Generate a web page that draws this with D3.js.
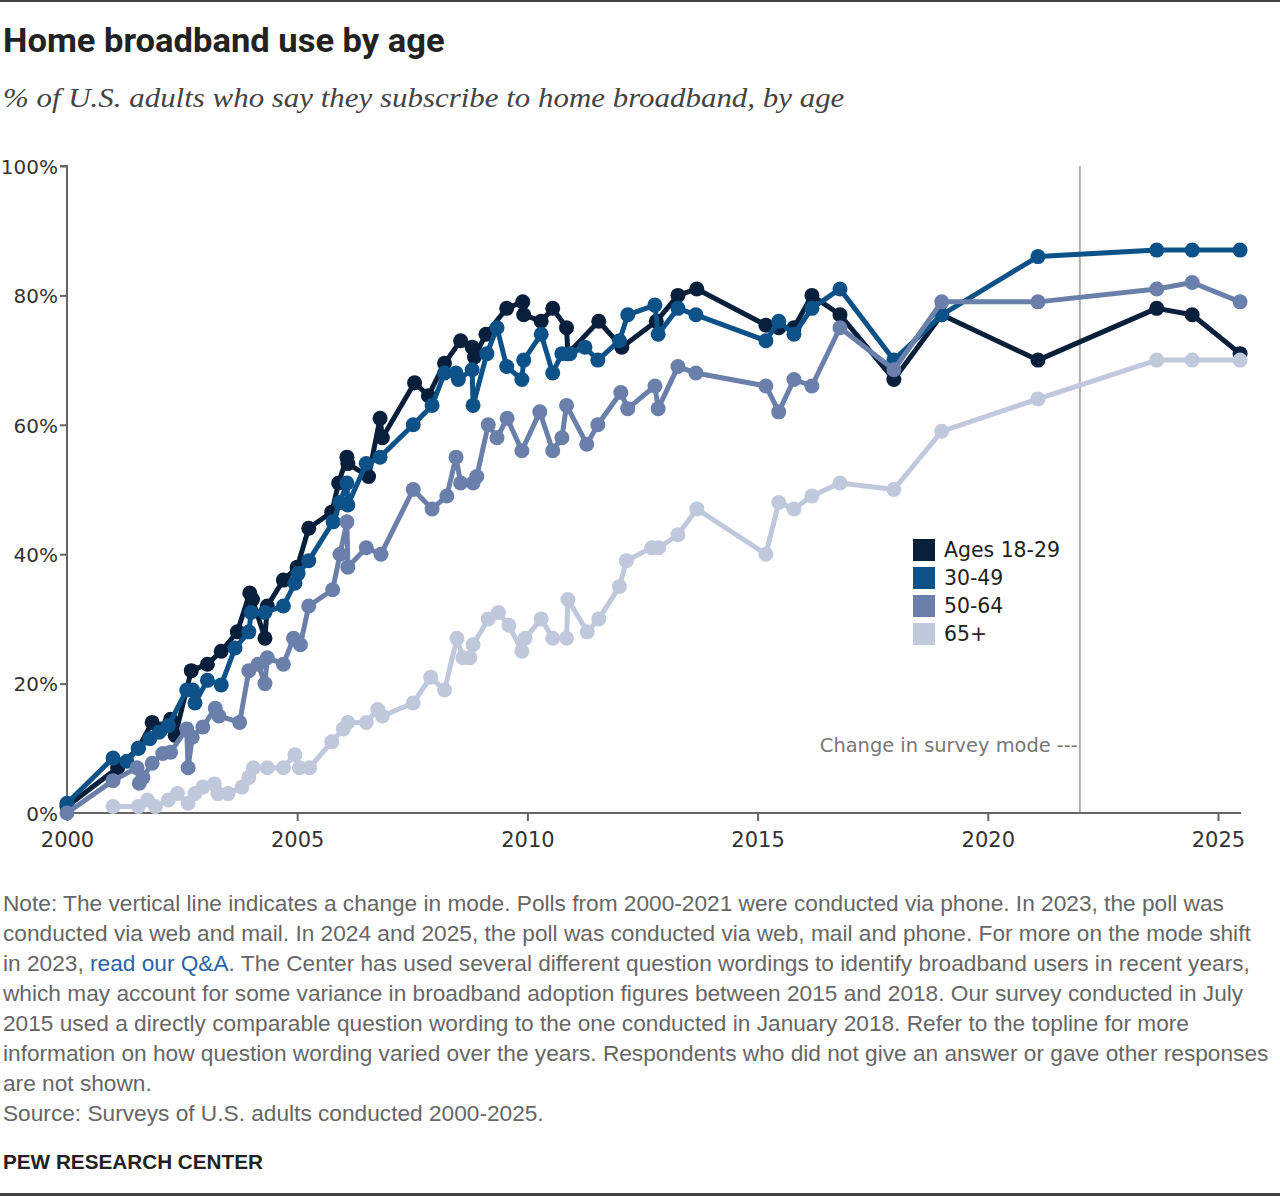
<!DOCTYPE html>
<html><head><meta charset="utf-8">
<script src="https://cdn.jsdelivr.net/npm/d3@7"></script>
<style>
html,body{margin:0;padding:0;background:#fff;}
svg{display:block;}
</style></head>
<body>
<svg id="chart" width="1280" height="1196"></svg>
<script>
// ---------- DATA ----------
const seriesNames = ["Ages 18-29", "30-49", "50-64", "65+"];
const seriesColors = ["#071f3b", "#0c5289", "#6a7fa9", "#c0c8dc"];

const ages18_29 = [[2000.0,1],[2001.1,7],[2001.55,10],[2001.85,14],[2002.05,13],[2002.25,14.5],[2002.35,12],[2002.7,22],[2003.05,23],[2003.35,25],[2003.7,28],[2003.97,34],[2004.03,33],[2004.3,27],[2004.35,32],[2004.7,36],[2005.0,38],[2005.25,44],[2005.75,46.5],[2005.9,51],[2006.08,55],[2006.1,54],[2006.55,52],[2006.8,61],[2006.85,58],[2007.55,66.5],[2007.85,64.5],[2008.2,69.5],[2008.55,73],[2008.8,72],[2008.85,70.5],[2009.1,74],[2009.55,78],[2009.9,79],[2009.92,77],[2010.3,76],[2010.55,78],[2010.85,75],[2010.88,71],[2011.55,76],[2012.05,72],[2012.8,76],[2013.27,80],[2013.68,81],[2015.18,75.4],[2015.46,75],[2015.79,75],[2016.18,80],[2016.79,77],[2017.96,67],[2019.0,77],[2021.09,70],[2023.67,78],[2024.44,77],[2025.48,71]];

const ages30_49 = [[2000.0,1.5],[2001.0,8.5],[2001.3,8],[2001.55,10],[2001.8,11.5],[2002.0,12.5],[2002.2,13.5],[2002.6,19],[2002.73,19],[2002.78,17],[2003.05,20.5],[2003.35,19.8],[2003.65,25.5],[2003.95,28],[2004.0,31],[2004.3,31],[2004.7,32],[2004.95,35.5],[2005.02,37],[2005.25,39],[2005.78,45],[2005.93,48],[2006.08,51],[2006.1,47.6],[2006.5,54],[2006.8,55],[2007.52,60],[2007.93,63],[2008.2,68],[2008.45,68],[2008.5,67],[2008.8,68.5],[2008.82,63],[2009.12,71],[2009.34,75],[2009.55,69],[2009.88,67],[2009.92,70],[2010.3,74],[2010.55,68],[2010.75,71],[2010.92,71],[2011.25,72],[2011.53,70],[2012.0,73],[2012.18,77],[2012.77,78.5],[2012.84,74],[2013.27,78],[2013.66,77],[2015.18,73],[2015.46,76],[2015.79,74],[2016.18,78],[2016.79,81],[2017.96,70],[2019.0,77],[2021.09,86],[2023.67,87],[2024.44,87],[2025.48,87]];

const ages50_64 = [[2000.0,0],[2001.0,5],[2001.52,7],[2001.57,4.6],[2001.65,5.5],[2001.85,7.7],[2002.08,9.2],[2002.25,9.4],[2002.6,13],[2002.63,7],[2002.72,11.7],[2002.95,13.3],[2003.22,16.2],[2003.3,15],[2003.75,14],[2003.95,22],[2004.15,23],[2004.3,20],[2004.35,24],[2004.7,23],[2004.92,27],[2005.07,26],[2005.25,32],[2005.77,34.5],[2005.93,40],[2006.08,45],[2006.1,38],[2006.5,41],[2006.82,40],[2007.52,50],[2007.93,47],[2008.25,49],[2008.45,55],[2008.55,51],[2008.82,51],[2008.9,52],[2009.15,60],[2009.34,58],[2009.56,61],[2009.88,56],[2010.27,62],[2010.55,56],[2010.75,58],[2010.85,63],[2011.29,57],[2011.53,60],[2012.03,65],[2012.18,62.5],[2012.77,66],[2012.84,62.5],[2013.27,69],[2013.66,68],[2015.18,66],[2015.46,62],[2015.79,67],[2016.18,66],[2016.79,75],[2017.96,68.5],[2019.0,79],[2021.09,79],[2023.67,81],[2024.44,82],[2025.48,79]];

const ages65plus = [[2001.0,1],[2001.55,1],[2001.75,2],[2001.92,1],[2002.2,2],[2002.4,3],[2002.63,1.5],[2002.78,3],[2002.95,4],[2003.2,4.5],[2003.28,3],[2003.5,3],[2003.8,4],[2003.95,5.5],[2004.05,7],[2004.35,7],[2004.7,7],[2004.95,9],[2005.05,7],[2005.27,7],[2005.75,11],[2006.0,13],[2006.1,14],[2006.5,14],[2006.75,16],[2006.85,15],[2007.52,17],[2007.9,21],[2008.2,19],[2008.47,27],[2008.6,24],[2008.75,24],[2008.82,26],[2009.15,30],[2009.37,31],[2009.6,29],[2009.88,25],[2009.95,27],[2010.3,30],[2010.55,27],[2010.85,27],[2010.88,33],[2011.3,28],[2011.55,30],[2012.0,35],[2012.15,39],[2012.7,41],[2012.85,41],[2013.27,43],[2013.68,47],[2015.18,40],[2015.46,48],[2015.79,47],[2016.18,49],[2016.79,51],[2017.96,50],[2019.0,59],[2021.09,64],[2023.67,70],[2024.44,70],[2025.48,70]];

const allSeries = [ages18_29, ages30_49, ages50_64, ages65plus];
const yTicks = [0, 20, 40, 60, 80, 100];
const xTicks = [2000, 2005, 2010, 2015, 2020, 2025];
const modeChangeYear = 2022.0;

const titleText = "Home broadband use by age";
const subtitleText = "% of U.S. adults who say they subscribe to home broadband, by age";
const modeLabel = "Change in survey mode ---";
const noteLines = [
  "Note: The vertical line indicates a change in mode. Polls from 2000-2021 were conducted via phone. In 2023, the poll was",
  "conducted via web and mail. In 2024 and 2025, the poll was conducted via web, mail and phone. For more on the mode shift",
  ["in 2023, ", "read our Q&A", ". The Center has used several different question wordings to identify broadband users in recent years,"],
  "which may account for some variance in broadband adoption figures between 2015 and 2018. Our survey conducted in July",
  "2015 used a directly comparable question wording to the one conducted in January 2018. Refer to the topline for more",
  "information on how question wording varied over the years. Respondents who did not give an answer or gave other responses",
  "are not shown.",
  "Source: Surveys of U.S. adults conducted 2000-2025."
];
const creditText = "PEW RESEARCH CENTER";

// ---------- DRAW ----------
const svg = d3.select("#chart");
const sans = "'Liberation Sans', Arial, Helvetica, sans-serif";
const wide = "'DejaVu Sans', Verdana, sans-serif";

function fitWidth(sel, target) {
  const w = sel.node().getComputedTextLength();
  const fs = parseFloat(sel.attr("font-size"));
  sel.attr("font-size", (fs * target / w).toFixed(2));
}
function scaleToWidth(sel, x0, y0, target) {
  const w = sel.node().getComputedTextLength();
  const k = target / w;
  sel.attr("x", 0).attr("y", 0).attr("transform", `translate(${x0},${y0}) scale(${k.toFixed(4)},1)`);
}

// borders
svg.append("rect").attr("x",0).attr("y",0).attr("width",1280).attr("height",2).attr("fill","#444");
svg.append("rect").attr("x",0).attr("y",1193).attr("width",1280).attr("height",3).attr("fill","#444");

const title = svg.append("text")
  .attr("font-family","Roboto, " + sans).attr("font-weight",700).attr("font-size",33)
  .attr("fill","#222").text(titleText);
scaleToWidth(title, 3, 52, 442);

const sub = svg.append("text")
  .attr("font-family","'Liberation Serif', Georgia, serif").attr("font-style","italic").attr("font-size",27)
  .attr("fill","#444").text(subtitleText);
scaleToWidth(sub, 3, 107, 842);

const x = d3.scaleLinear().domain([2000, 2025.5]).range([67, 1241]);
const y = d3.scaleLinear().domain([0, 100]).range([813, 166]);

// mode change line
svg.append("line").attr("x1",x(modeChangeYear)).attr("x2",x(modeChangeYear))
  .attr("y1",y(100)).attr("y2",y(0)).attr("stroke","#b0b0b0").attr("stroke-width",2);
const ml = svg.append("text").attr("x",x(modeChangeYear)-2).attr("y",752)
  .attr("text-anchor","end").attr("font-family",wide).attr("font-size",19)
  .attr("fill","#777").text(modeLabel);
fitWidth(ml, 258);

// axes
const yAxis = svg.append("g").attr("transform",`translate(${x(2000)},0)`)
  .call(d3.axisLeft(y).tickValues(yTicks).tickSize(7).tickFormat(d => d + "%"));
const xAxis = svg.append("g").attr("transform",`translate(0,${y(0)})`)
  .call(d3.axisBottom(x).tickValues(xTicks).tickSize(8).tickFormat(d3.format("d")));
[yAxis, xAxis].forEach(g => {
  g.select(".domain").attr("stroke","#666").attr("stroke-width",2);
  g.selectAll(".tick line").attr("stroke","#666").attr("stroke-width",2);
  g.selectAll(".tick text").attr("font-family",wide).attr("font-size",20).attr("fill","#333");
});
yAxis.select(".domain").attr("d", `M-7,${y(100)}H0V${y(0)}`);
yAxis.selectAll(".tick text").attr("x",-9).attr("dy","0.36em");
xAxis.select(".domain").attr("d", `M${x(2000)},0H${x(2025.5)}`);
xAxis.selectAll(".tick text").attr("font-size",21).attr("y",19).attr("dy","0.71em");

// series
const line = d3.line().x(d => x(d[0])).y(d => y(d[1]));
allSeries.forEach((data, i) => {
  const g = svg.append("g");
  g.append("path").datum(data).attr("d", line).attr("fill","none")
    .attr("stroke", seriesColors[i]).attr("stroke-width",5).attr("stroke-linejoin","round");
  g.selectAll("circle").data(data).join("circle")
    .attr("cx", d => x(d[0])).attr("cy", d => y(d[1])).attr("r",7.5)
    .attr("fill", seriesColors[i]);
});

// legend
const legend = svg.append("g").attr("transform","translate(913,539)");
seriesNames.forEach((n, i) => {
  legend.append("rect").attr("x",0).attr("y",i*28).attr("width",22).attr("height",22).attr("fill",seriesColors[i]);
  const t = legend.append("text").attr("x",31).attr("y",i*28+11).attr("dy","0.36em")
    .attr("font-family",wide).attr("font-size",20).attr("fill","#222").text(n);
  if (i === 0) fitWidth(t, 116);
});
const legFS = legend.select("text").attr("font-size");
legend.selectAll("text").attr("font-size", legFS);

// notes
const notesG = svg.append("g");
const probe = notesG.append("text").attr("font-family",sans).attr("font-size",20).text(noteLines[5]);
const baseW = probe.node().getComputedTextLength();
probe.remove();
const noteFS = 20 * 1266 / baseW;
noteLines.forEach((ln, i) => {
  const t = notesG.append("text").attr("x",3).attr("y",911 + i*30)
    .attr("font-family",sans).attr("font-size",noteFS.toFixed(2)).attr("fill","#666");
  if (Array.isArray(ln)) {
    t.append("tspan").text(ln[0]);
    t.append("tspan").attr("fill","#2a64a8").text(ln[1]);
    t.append("tspan").text(ln[2]);
  } else t.text(ln);
});

const credit = svg.append("text").attr("x",3).attr("y",1169).attr("font-family",sans).attr("font-weight",700)
  .attr("font-size",20).attr("fill","#222").text(creditText);
fitWidth(credit, 260);
</script>
</body></html>
